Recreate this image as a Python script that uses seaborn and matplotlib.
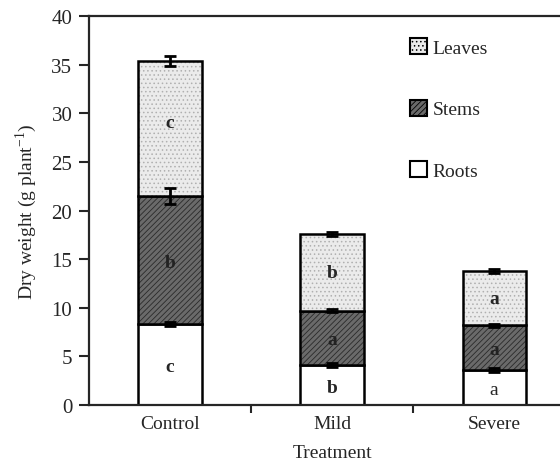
import matplotlib
matplotlib.use("Agg")
import matplotlib.pyplot as plt
import seaborn as sns
import numpy as np
from matplotlib.patches import Patch

treatments = ["Control", "Mild", "Severe"]
roots = [8.3, 4.1, 3.6]
stems = [13.2, 5.6, 4.6]
leaves = [13.9, 7.9, 5.6]
roots_err = [0.2, 0.2, 0.2]
stems_err = [0.8, 0.15, 0.15]
leaves_err = [0.5, 0.2, 0.2]
roots_letters = ["c", "b", "a"]
stems_letters = ["b", "a", "a"]
leaves_letters = ["c", "b", "a"]
yticks = [0, 5, 10, 15, 20, 25, 30, 35, 40]

sns.set_style("ticks")
plt.rcParams["font.family"] = ["Liberation Serif", "DejaVu Serif"]
plt.rcParams["hatch.linewidth"] = 0.6

FS = 14
fig = plt.figure(figsize=(5.6, 4.64), dpi=100)
ax = fig.add_axes([0.159, 0.125, 0.868, 0.838])

r = np.array(roots)
s = np.array(stems)
l = np.array(leaves)
stem_top = r + s
leaf_top = r + s + l

layers = [
    (roots, 0, "white", "", "white"),
    (stems, r, "#6a6a6a", "//////", "#2a2a2a"),
    (leaves, stem_top, "#ebebeb", "....", "#b0b0b0"),
]
W = 0.39
for vals, bottom, face, hatch, hcol in layers:
    sns.barplot(x=treatments, y=vals, bottom=bottom, color=face, saturation=1,
                width=W, hatch=hatch, edgecolor=hcol, linewidth=0, ax=ax)
    sns.barplot(x=treatments, y=vals, bottom=bottom, fill=False, color="black",
                width=W, linewidth=1.8, ax=ax)

xs = np.arange(len(treatments))
for tops, errs in [(r, roots_err), (stem_top, stems_err), (leaf_top, leaves_err)]:
    ax.errorbar(xs, tops, yerr=errs, fmt="none", ecolor="black", elinewidth=2,
                capsize=4, capthick=2, zorder=5)

for i in range(3):
    ax.text(xs[i], r[i] / 2 - 0.2, roots_letters[i], ha="center", va="center",
            fontsize=FS, fontweight="bold" if i < 2 else "normal")
    ax.text(xs[i], r[i] + s[i] / 2 - 0.2, stems_letters[i], ha="center", va="center",
            fontsize=FS, fontweight="bold", color="#222222")
    ax.text(xs[i], stem_top[i] + l[i] / 2 + (0.6 if i == 0 else 0), leaves_letters[i],
            ha="center", va="center", fontsize=FS, fontweight="bold")

ax.set_ylim(0, 40)
ax.set_xlim(-0.5, 2.5)
ax.set_yticks(yticks)
ax.tick_params(axis="y", direction="out", length=7, width=1.5, labelsize=15, pad=5)
ax.tick_params(axis="x", which="major", length=0, labelsize=FS, pad=7)
ax.set_xticks([0.5, 1.5], minor=True)
ax.tick_params(axis="x", which="minor", direction="out", length=6, width=1.5)
for sp in ax.spines.values():
    sp.set_visible(True)
    sp.set_linewidth(1.6)
ax.set_ylabel("Dry weight (g plant$^{\\mathregular{-1}}$)", fontsize=FS, labelpad=9)
ax.set_xlabel("Treatment", fontsize=FS, labelpad=9)

handles = [
    Patch(facecolor="#ebebeb", edgecolor="black", hatch="....", linewidth=1.5),
    Patch(facecolor="#6a6a6a", edgecolor="black", hatch="//////", linewidth=1.5),
    Patch(facecolor="white", edgecolor="black", linewidth=1.5),
]
fig.legend(handles, ["Leaves", "Stems", "Roots"], loc="upper left",
           bbox_to_anchor=(0.732, 0.916), frameon=False, fontsize=FS,
           borderaxespad=0, borderpad=0,
           labelspacing=2.2, handlelength=0.9, handleheight=0.9, handletextpad=0.25)

fig.savefig("out.png", dpi=100)
